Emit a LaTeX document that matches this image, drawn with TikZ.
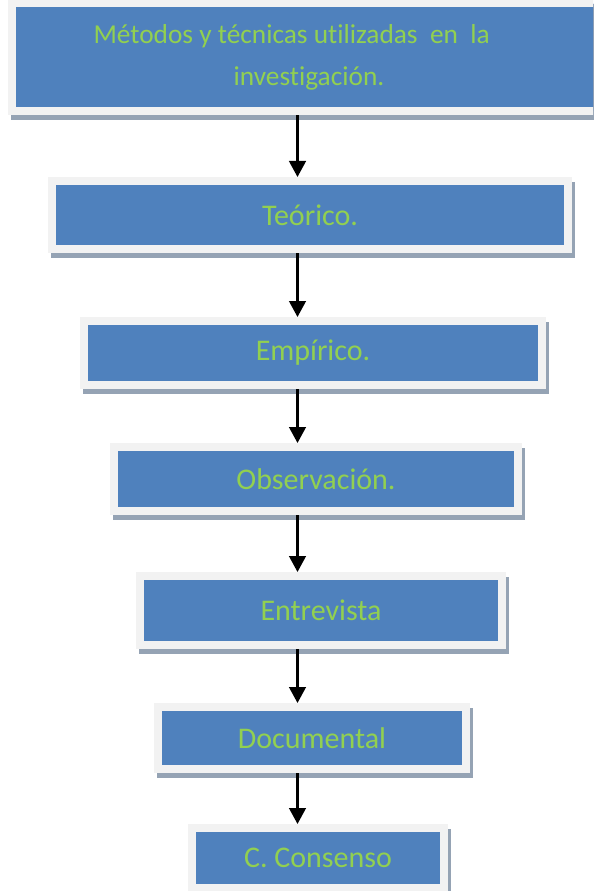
\documentclass[tikz,border=0pt]{standalone}
\usepackage{fontspec}
\setmainfont{Carlito}[Ligatures=NoCommon]
\usetikzlibrary{positioning}
\usetikzlibrary{arrows.meta,backgrounds}
\definecolor{boxblue}{HTML}{4F81BD}
\definecolor{boxframe}{HTML}{F2F2F2}
\definecolor{boxshadow}{HTML}{95A3B4}
\definecolor{textgreen}{HTML}{92D050}

\begin{document}
\begin{tikzpicture}[x=0.75pt,y=-0.75pt,>={Triangle[length=12pt,width=12.5pt]},
  method/.style={rectangle,fill=boxblue,draw=boxframe,line width=6pt,inner sep=0pt,
    text=textgreen,font=\fontsize{22.5}{31.5}\selectfont,align=center},
  link/.style={->,line width=1.8pt}]
  \useasboundingbox (0,0) rectangle (593,891);
  \clip (0,0) rectangle (593,891);

  \node[method,minimum width=445.5pt,minimum height=81pt,font=\fontsize{20.5}{31.5}\selectfont]
    (metodos)  at (309,57.5)  {Métodos y técnicas utilizadas\ \ en\ \ la\hspace*{26pt}\\investigación.};
  \node[method,minimum width=387pt,minimum height=51pt]     (teorico)  at (310,215)   {Teórico.};
  \node[method,minimum width=343.5pt,minimum height=48pt]   (empirico) at (313,353)   {Empírico.};
  \node[method,minimum width=303pt,minimum height=48pt]     (observ)   at (316,479)   {Observación.};
  \node[method,minimum width=271.5pt,minimum height=51.75pt] (entrev)  at (321,610.5) {Entrevista};
  \node[method,minimum width=231pt,minimum height=46.5pt]   (docum)    at (312,738)   {Documental};
  \node[method,minimum width=189pt,minimum height=45pt]     (consenso) at (318,858)   {C. Consenso};

  % shadows behind the boxes
  \begin{scope}[on background layer]
    \foreach \n in {metodos,teorico,empirico,observ,entrev,docum,consenso}
      \fill[boxshadow] ([shift={(3,5)}]\n.north west) rectangle ([shift={(3,5)}]\n.south east);
  \end{scope}

  \coordinate (ax) at (297.5,0);

  \draw[link] (metodos.south -| ax) -- (teorico.north -| ax);
  \draw[link] (teorico.south -| ax) -- (empirico.north -| ax);
  \draw[link] (empirico.south -| ax) -- (observ.north -| ax);
  \draw[link] (observ.south -| ax) -- (entrev.north -| ax);
  \draw[link] (entrev.south -| ax) -- (docum.north -| ax);
  \draw[link] (docum.south -| ax) -- (consenso.north -| ax);
\end{tikzpicture}
\end{document}
